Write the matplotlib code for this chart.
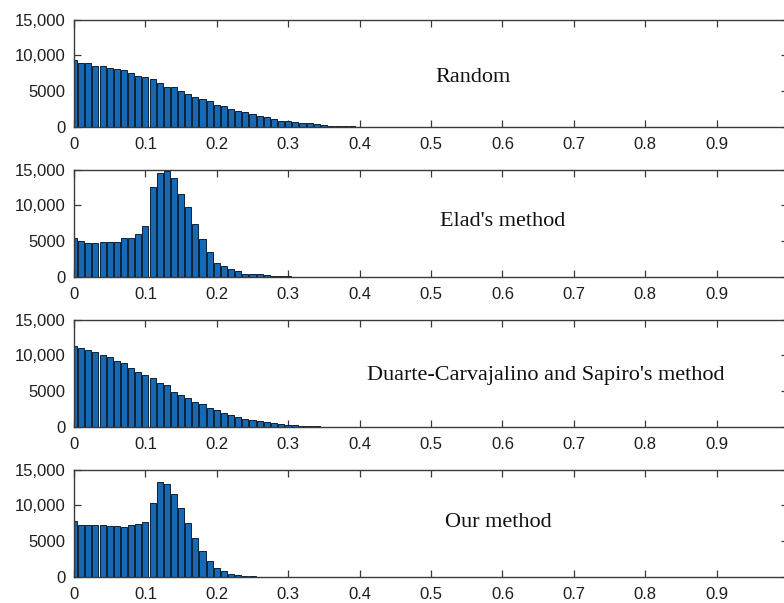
import numpy as np
import matplotlib
matplotlib.use("Agg")
import matplotlib.pyplot as plt
from matplotlib.ticker import FixedLocator, FixedFormatter

# ---------- histogram counts, one bin every 0.01 starting at 0 ----------
BIN_WIDTH = 0.01

random_counts = [9400, 8950, 8870, 8550, 8550, 8170, 8030, 7900, 7520, 7100,
                 6970, 6690, 6180, 5620, 5620, 5060, 4640, 4230, 3900, 3580,
                 3020, 2880, 2550, 2230, 2040, 1810, 1490, 1350, 1160, 880,
                 860, 650, 600, 510, 370, 280, 190, 150, 110, 80,
                 60, 50, 40, 30]

elad_counts = [5400, 5050, 4700, 4800, 4900, 4950, 4950, 5500, 5500, 6050,
               7100, 12500, 14500, 14800, 13800, 11650, 9750, 7400, 5300, 3500,
               1950, 1550, 1100, 820, 460, 460, 350, 270, 200, 150,
               80, 60, 40, 30, 25, 20]

duarte_counts = [11300, 10960, 10730, 10450, 10100, 9800, 9240, 8960, 8300, 7660,
                 7200, 6830, 6180, 5850, 4830, 4500, 4000, 3480, 3200, 2600,
                 2370, 1900, 1670, 1440, 1110, 980, 840, 700, 510, 420,
                 280, 230, 190, 140, 90, 60]

ours_counts = [7850, 7290, 7290, 7200, 7290, 7060, 7060, 7000, 7200, 7430,
               7700, 10360, 13300, 12960, 11600, 9660, 7570, 5430, 3670, 2280,
               1300, 880, 460, 230, 140, 90, 60, 40]

panel_names = ["Random", "Elad's method",
               "Duarte-Carvajalino and Sapiro's method", "Our method"]
panel_counts = [random_counts, elad_counts, duarte_counts, ours_counts]
# where each caption sits, in axes fractions
label_pos = [(0.559, 0.46), (0.60, 0.52), (0.661, 0.48), (0.594, 0.51)]

x_ticks = [0, 0.1, 0.2, 0.3, 0.4, 0.5, 0.6, 0.7, 0.8, 0.9, 1.0]
x_labels = ["0", "0.1", "0.2", "0.3", "0.4", "0.5", "0.6", "0.7", "0.8", "0.9", "1"]
y_ticks = [0, 5000, 10000, 15000]
y_labels = ["0", "5000", "10,000", "15,000"]

BAR_FACE = "#1769b3"
BAR_EDGE = "#0b2036"
SPINE = "#3a3a3a"

W, H = 784, 603
fig = plt.figure(figsize=(W / 100, H / 100), dpi=100)
fig.patch.set_facecolor("white")

left_px, right_px = 74, 788
for i, (name, counts) in enumerate(zip(panel_names, panel_counts)):
    top_px = 19.5 + 150 * i
    bot_px = 127 + 150 * i
    ax = fig.add_axes([left_px / W, 1 - bot_px / H,
                       (right_px - left_px) / W, (bot_px - top_px) / H])
    centers = np.arange(len(counts)) * BIN_WIDTH
    ax.bar(centers, counts, width=0.0085, color=BAR_FACE,
           edgecolor=BAR_EDGE, linewidth=0.7, zorder=2)
    ax.set_xlim(0, 1)
    ax.set_ylim(0, 15000)

    ax.xaxis.set_major_locator(FixedLocator(x_ticks))
    ax.xaxis.set_major_formatter(FixedFormatter(x_labels))
    ax.yaxis.set_major_locator(FixedLocator(y_ticks))
    ax.yaxis.set_major_formatter(FixedFormatter(y_labels))
    ax.tick_params(axis="both", direction="in", length=5, width=0.9,
                   color=SPINE, labelsize=12, labelcolor="#1e1e1e",
                   top=True, right=True)
    ax.tick_params(axis="x", pad=7)
    ax.tick_params(axis="y", pad=6)
    for lab in ax.get_xticklabels() + ax.get_yticklabels():
        lab.set_fontfamily("Liberation Sans")
    for sp in ax.spines.values():
        sp.set_color(SPINE)
        sp.set_linewidth(1.0)

    lx, ly = label_pos[i]
    ax.text(lx, ly, name, transform=ax.transAxes, ha="center", va="center",
            fontsize=16, family="Liberation Serif", color="#111111")

fig.savefig("out.png", dpi=100, facecolor="white")
